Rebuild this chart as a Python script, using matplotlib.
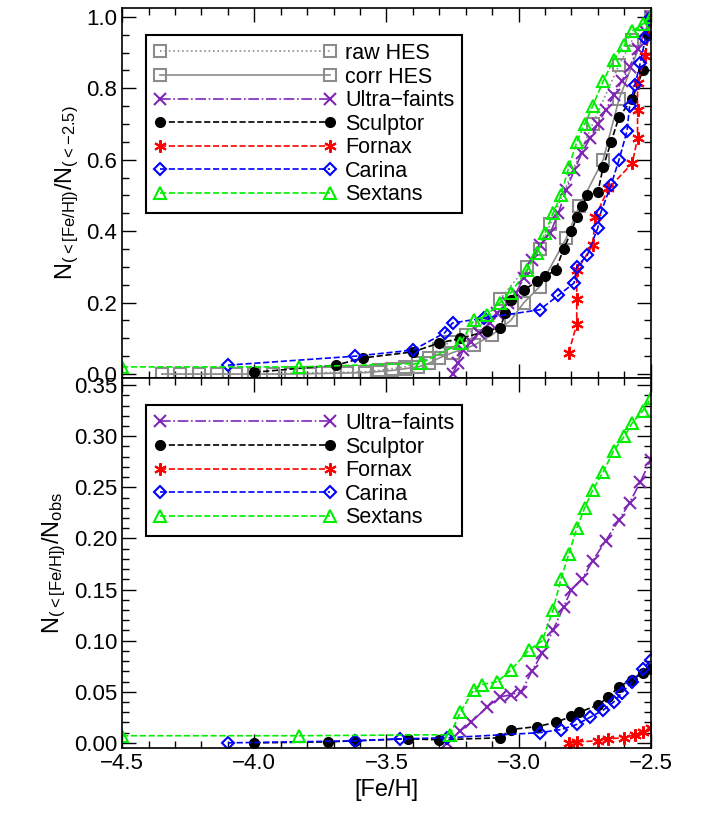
import matplotlib
matplotlib.use("Agg")
import matplotlib.pyplot as plt
from matplotlib.ticker import MultipleLocator

plt.rcParams["font.family"] = ["Liberation Sans", "DejaVu Sans"]
plt.rcParams["mathtext.fontset"] = "custom"
plt.rcParams["mathtext.rm"] = "Liberation Sans"

# ---------- top panel: N(<[Fe/H]) / N(<-2.5) ----------
raw_x = [-4.35, -4.28, -4.21, -4.14, -4.07, -4.0, -3.93, -3.86, -3.79, -3.72, -3.65, -3.58, -3.53, -3.48,
         -3.43, -3.38, -3.34, -3.3, -3.26, -3.2, -3.14, -3.07, -2.97, -2.92, -2.88, -2.72, -2.62, -2.57, -2.5]
raw_y = [0.0, 0.0, 0.0, 0.0, 0.0, 0.0, 0.0, 0.002, 0.003, 0.004, 0.005, 0.006, 0.01, 0.015,
         0.02, 0.03, 0.045, 0.07, 0.09, 0.11, 0.14, 0.21, 0.30, 0.35, 0.42, 0.70, 0.865, 0.935, 1.0]
corr_x = [-4.35, -4.28, -4.21, -4.14, -4.07, -4.0, -3.93, -3.86, -3.79, -3.72, -3.65, -3.58, -3.53, -3.48,
          -3.43, -3.38, -3.34, -3.3, -3.25, -3.17, -3.1, -3.03, -2.98, -2.92, -2.82, -2.77, -2.68, -2.62, -2.5]
corr_y = [0.0, 0.0, 0.0, 0.0, 0.0, 0.0, 0.0, 0.0, 0.001, 0.002, 0.003, 0.004, 0.007, 0.01,
          0.015, 0.02, 0.03, 0.045, 0.06, 0.08, 0.11, 0.15, 0.20, 0.245, 0.38, 0.47, 0.60, 0.77, 1.0]
uf_x = [-3.25, -3.23, -3.21, -3.18, -3.15, -3.11, -3.08, -3.04, -3.01, -2.98, -2.95, -2.92, -2.88, -2.85,
        -2.82, -2.79, -2.76, -2.73, -2.7, -2.67, -2.64, -2.61, -2.58, -2.55, -2.52, -2.5]
uf_y = [0.0, 0.03, 0.067, 0.09, 0.115, 0.143, 0.17, 0.2, 0.227, 0.27, 0.32, 0.36, 0.395, 0.45,
        0.515, 0.57, 0.62, 0.66, 0.70, 0.74, 0.78, 0.82, 0.86, 0.91, 0.96, 1.0]
scl_x = [-4.0, -3.69, -3.59, -3.4, -3.3, -3.22, -3.12, -3.07, -3.05, -3.03, -2.98, -2.93, -2.9, -2.86,
         -2.83, -2.8, -2.78, -2.76, -2.74, -2.7, -2.68, -2.65, -2.62, -2.57, -2.53, -2.51, -2.5]
scl_y = [0.005, 0.025, 0.045, 0.062, 0.087, 0.10, 0.12, 0.13, 0.17, 0.207, 0.235, 0.26, 0.275, 0.29,
         0.35, 0.40, 0.44, 0.47, 0.5, 0.51, 0.58, 0.65, 0.72, 0.77, 0.85, 0.95, 1.0]
fnx_x = [-2.81, -2.78, -2.78, -2.78, -2.72, -2.71, -2.66, -2.57, -2.55, -2.55, -2.55, -2.52, -2.5]
fnx_y = [0.06, 0.14, 0.21, 0.29, 0.36, 0.44, 0.52, 0.59, 0.66, 0.74, 0.815, 0.89, 0.99]
car_x = [-4.1, -3.62, -3.4, -3.28, -3.25, -3.13, -2.92, -2.85, -2.79, -2.78, -2.74, -2.7, -2.69, -2.65,
         -2.62, -2.59, -2.58, -2.56, -2.54, -2.52, -2.5]
car_y = [0.025, 0.05, 0.067, 0.115, 0.143, 0.157, 0.18, 0.22, 0.255, 0.30, 0.333, 0.41, 0.45, 0.53,
         0.6, 0.68, 0.75, 0.81, 0.87, 0.94, 1.0]
sex_x = [-4.5, -3.83, -3.37, -3.22, -3.17, -3.12, -3.07, -3.03, -2.97, -2.93, -2.9, -2.87, -2.84, -2.81,
         -2.78, -2.75, -2.72, -2.68, -2.64, -2.6, -2.57, -2.53, -2.5]
sex_y = [0.02, 0.02, 0.03, 0.087, 0.15, 0.165, 0.2, 0.227, 0.29, 0.34, 0.395, 0.45, 0.5, 0.58,
         0.65, 0.70, 0.75, 0.82, 0.88, 0.92, 0.96, 0.98, 1.0]

# ---------- bottom panel: N(<[Fe/H]) / N_obs ----------
uf_x2 = [-3.27, -3.22, -3.18, -3.12, -3.07, -3.03, -2.99, -2.95, -2.91, -2.87, -2.83, -2.8, -2.76,
         -2.72, -2.67, -2.62, -2.58, -2.54, -2.5]
uf_y2 = [0.0, 0.012, 0.02, 0.035, 0.045, 0.047, 0.05, 0.07, 0.088, 0.11, 0.133, 0.15, 0.16,
         0.178, 0.198, 0.218, 0.235, 0.255, 0.277]
scl_x2 = [-4.0, -3.72, -3.62, -3.42, -3.3, -3.07, -3.03, -2.93, -2.86, -2.8, -2.77, -2.7, -2.66,
          -2.62, -2.57, -2.53, -2.5]
scl_y2 = [0.0, 0.001, 0.002, 0.004, 0.003, 0.005, 0.013, 0.016, 0.02, 0.026, 0.03, 0.037, 0.045,
          0.055, 0.062, 0.068, 0.072]
fnx_x2 = [-2.81, -2.78, -2.7, -2.66, -2.6, -2.56, -2.53, -2.5]
fnx_y2 = [0.0, 0.001, 0.002, 0.004, 0.005, 0.008, 0.011, 0.015]
car_x2 = [-4.1, -3.62, -3.45, -3.27, -2.92, -2.84, -2.78, -2.73, -2.68, -2.64, -2.61, -2.57, -2.53, -2.5]
car_y2 = [0.0, 0.002, 0.004, 0.005, 0.01, 0.013, 0.018, 0.025, 0.032, 0.04, 0.049, 0.06, 0.072, 0.081]
sex_x2 = [-4.5, -3.83, -3.26, -3.22, -3.17, -3.14, -3.08, -3.03, -2.96, -2.91, -2.87, -2.84, -2.81,
          -2.78, -2.75, -2.72, -2.68, -2.64, -2.6, -2.57, -2.53, -2.5]
sex_y2 = [0.007, 0.007, 0.008, 0.03, 0.052, 0.057, 0.06, 0.071, 0.091, 0.10, 0.13, 0.16, 0.185,
          0.21, 0.23, 0.247, 0.265, 0.286, 0.30, 0.313, 0.325, 0.337]

grey = "#8c8c8c"
purple = "#7f26b5"
styles = {
    "raw": dict(color=grey, ls=":", marker="s", mfc="none", ms=8, mew=1.5, lw=1.2, label="raw HES"),
    "corr": dict(color=grey, ls="-", marker="s", mfc="none", ms=8, mew=1.5, lw=1.2, label="corr HES"),
    "uf": dict(color=purple, ls="-.", marker="x", ms=8, mew=1.5, lw=1.2, label="Ultra\u2212faints"),
    "scl": dict(color="black", ls="--", marker="o", ms=7, lw=1.2, label="Sculptor"),
    "fnx": dict(color="red", ls="--", marker=(6, 2, 0), ms=9, mew=1.5, lw=1.2, label="Fornax"),
    "car": dict(color="blue", ls="--", marker="D", mfc="none", ms=6, mew=1.5, lw=1.2, label="Carina"),
    "sex": dict(color="#00ee00", ls="--", marker="^", mfc="none", ms=8, mew=1.5, lw=1.2, label="Sextans"),
}

fig = plt.figure(figsize=(7.02, 8.30), dpi=100)
ax1 = fig.add_axes([0.174, 0.5446, 0.753, 0.4458])
ax2 = fig.add_axes([0.174, 0.0988, 0.753, 0.4458], sharex=ax1)

ax1.plot(raw_x, raw_y, **styles["raw"])
ax1.plot(corr_x, corr_y, **styles["corr"])
ax1.plot(uf_x, uf_y, **styles["uf"])
ax1.plot(scl_x, scl_y, **styles["scl"])
ax1.plot(fnx_x, fnx_y, **styles["fnx"])
ax1.plot(car_x, car_y, **styles["car"])
ax1.plot(sex_x, sex_y, **styles["sex"])

ax2.plot(uf_x2, uf_y2, **styles["uf"])
ax2.plot(scl_x2, scl_y2, **styles["scl"])
ax2.plot(fnx_x2, fnx_y2, **styles["fnx"])
ax2.plot(car_x2, car_y2, **styles["car"])
ax2.plot(sex_x2, sex_y2, **styles["sex"])

ax1.set_xlim(-4.5, -2.5)
ax1.set_ylim(-0.011, 1.025)
ax2.set_ylim(-0.005, 0.357)
ax1.yaxis.set_major_locator(MultipleLocator(0.2))
ax1.yaxis.set_minor_locator(MultipleLocator(0.05))
ax2.yaxis.set_major_locator(MultipleLocator(0.05))
ax2.yaxis.set_minor_locator(MultipleLocator(0.01))
ax2.xaxis.set_major_locator(MultipleLocator(0.5))
ax2.xaxis.set_minor_locator(MultipleLocator(0.1))
ax1.yaxis.set_major_formatter(lambda v, p: f"{v:.1f}")
ax2.yaxis.set_major_formatter(lambda v, p: f"{v:.2f}")

for ax in (ax1, ax2):
    ax.tick_params(which="both", direction="in", top=True, right=True, labelsize=16, width=1)
    ax.tick_params(which="major", length=10)
    ax.tick_params(which="minor", length=5)
    for s in ax.spines.values():
        s.set_linewidth(1.2)
ax1.tick_params(labelbottom=False)
# keep the 0.0 / 0.35 labels at the panel seam from colliding
ax1.get_yticklabels()[0].set_va("bottom")
ax2.get_yticklabels()[-1].set_va("top")

ax1.set_ylabel(r"$\mathrm{N_{(<[Fe/H])}/N_{(<-2.5)}}$", fontsize=17)
ax2.set_ylabel(r"$\mathrm{N_{(<[Fe/H])}/N_{obs}}$", fontsize=17)
ax2.set_xlabel("[Fe/H]", fontsize=17)

for ax in (ax1, ax2):
    leg = ax.legend(loc="upper left", bbox_to_anchor=(0.025, 0.955), numpoints=2, fontsize=15.5,
                    handlelength=8.5, fancybox=False, edgecolor="black", framealpha=1,
                    borderpad=0.35, labelspacing=0.12, handletextpad=0.4)
    leg.get_frame().set_linewidth(1.5)

fig.savefig("out.png", dpi=100)
